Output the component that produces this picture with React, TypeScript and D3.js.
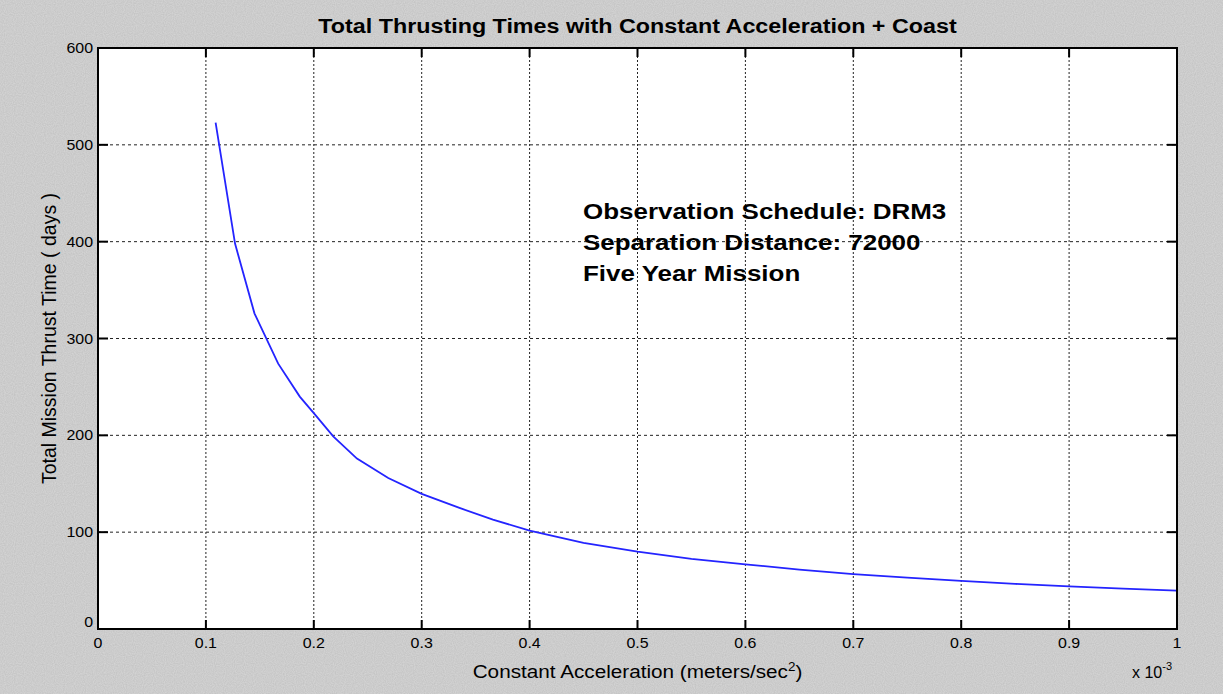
import React, { useEffect } from "react";
import * as d3 from "d3";

const accel = [0.109, 0.127, 0.145, 0.167, 0.187, 0.2, 0.218, 0.24, 0.269, 0.3, 0.335, 0.366, 0.4, 0.45, 0.5, 0.55, 0.6, 0.65, 0.7, 0.75, 0.8, 0.85, 0.9, 0.95, 1.0];
const thrustDays = [523, 398, 326, 274, 240, 223, 199, 176, 156, 139.5, 125, 113, 101.5, 89, 80, 72.5, 66.8, 61.3, 56.7, 53, 49.6, 46.6, 44, 41.7, 39.6];
const xTicks = [0, 0.1, 0.2, 0.3, 0.4, 0.5, 0.6, 0.7, 0.8, 0.9, 1];
const yTicks = [0, 100, 200, 300, 400, 500, 600];
const annotationLines = ["Observation Schedule: DRM3", "Separation Distance: 72000", "Five Year Mission"];
const title = "Total Thrusting Times with Constant Acceleration + Coast";
const yLabel = "Total Mission Thrust Time ( days )";

const W = 1223, H = 694;
const L = 98, R = 1177, T = 48, B = 629;
const FONT = "'Liberation Sans', Arial, Helvetica, sans-serif";

export default function App() {
  useEffect(() => {
    document.body.style.margin = "0";
    document.body.style.overflow = "hidden";
  }, []);
  const x = d3.scaleLinear().domain([0, 1]).range([L, R]);
  const y = d3.scaleLinear().domain([0, 600]).range([B, T]);
  const pts = accel.map((a, i) => [a, thrustDays[i]] as [number, number]);
  const line = d3.line<[number, number]>().x(d => x(d[0])).y(d => y(d[1]));
  const fmtX = (v: number) => (v === 0 ? "0" : v === 1 ? "1" : d3.format(".1f")(v));
  return (
    <svg width={W} height={H} style={{ display: "block" }} fontFamily={FONT}>
      <defs>
        <filter id="bgnoise" x="0" y="0" width="100%" height="100%" colorInterpolationFilters="sRGB">
          <feTurbulence type="fractalNoise" baseFrequency="0.9" numOctaves={1} seed={3} />
          <feColorMatrix type="matrix" values="0.1 0 0 0 0.75  0.1 0 0 0 0.75  0.1 0 0 0 0.75  0 0 0 0 1" />
        </filter>
      </defs>
      <rect x={0} y={0} width={W} height={H} fill="#cdcdcd" filter="url(#bgnoise)" />
      <rect x={L} y={T} width={R - L} height={B - T} fill="#ffffff" />
      {/* grid */}
      {xTicks.filter(v => v > 0 && v < 1).map(v => (
        <line key={"gx" + v} x1={x(v)} x2={x(v)} y1={T} y2={B} stroke="#222" strokeWidth={1} strokeDasharray="2,2" />
      ))}
      {yTicks.filter(v => v > 0 && v < 600).map(v => (
        <line key={"gy" + v} x1={L} x2={R} y1={y(v)} y2={y(v)} stroke="#222" strokeWidth={1} strokeDasharray="3,3" />
      ))}
      {/* data */}
      <path d={line(pts) || ""} fill="none" stroke="#2424ff" strokeWidth={1.8} />
      {/* ticks */}
      {xTicks.map(v => (
        <g key={"tx" + v}>
          <line x1={x(v)} x2={x(v)} y1={B} y2={B - 9} stroke="#000" strokeWidth={2} />
          <line x1={x(v)} x2={x(v)} y1={T} y2={T + 9} stroke="#000" strokeWidth={2} />
          <text transform={`translate(${x(v)},648) scale(1.14,1)`} textAnchor="middle" fontSize={14} fill="#000">{fmtX(v)}</text>
        </g>
      ))}
      {yTicks.map(v => (
        <g key={"ty" + v}>
          <line x1={L} x2={L + 10} y1={y(v)} y2={y(v)} stroke="#000" strokeWidth={2} />
          <line x1={R} x2={R - 10} y1={y(v)} y2={y(v)} stroke="#000" strokeWidth={2} />
          <text transform={`translate(93,${y(v) + (v === 0 ? -2 : 5)}) scale(1.14,1)`} textAnchor="end" fontSize={14} fill="#000">{v}</text>
        </g>
      ))}
      <rect x={L} y={T} width={R - L} height={B - T} fill="none" stroke="#000" strokeWidth={2} />
      {/* labels */}
      <text transform={`translate(${(L + R) / 2},33) scale(1.11,1)`} textAnchor="middle" fontSize={21} fontWeight="bold" fill="#000">{title}</text>
      <text transform={`translate(${(L + R) / 2},678) scale(1.12,1)`} textAnchor="middle" fontSize={18.5} fill="#000">
        Constant Acceleration (meters/sec<tspan dy={-7} fontSize={12}>2</tspan><tspan dy={7}>)</tspan>
      </text>
      <text transform={`translate(56,${(T + B) / 2}) rotate(-90)`} textAnchor="middle" fontSize={19.5} fill="#000">{yLabel}</text>
      <text x={1132} y={678} fontSize={16} fill="#000">x 10<tspan dy={-8} fontSize={11}>-3</tspan></text>
      {annotationLines.map((s, i) => (
        <text key={s} transform={`translate(583,${219 + i * 31}) scale(1.18,1)`} fontSize={22} fontWeight="bold" fill="#000">{s}</text>
      ))}
    </svg>
  );
}
